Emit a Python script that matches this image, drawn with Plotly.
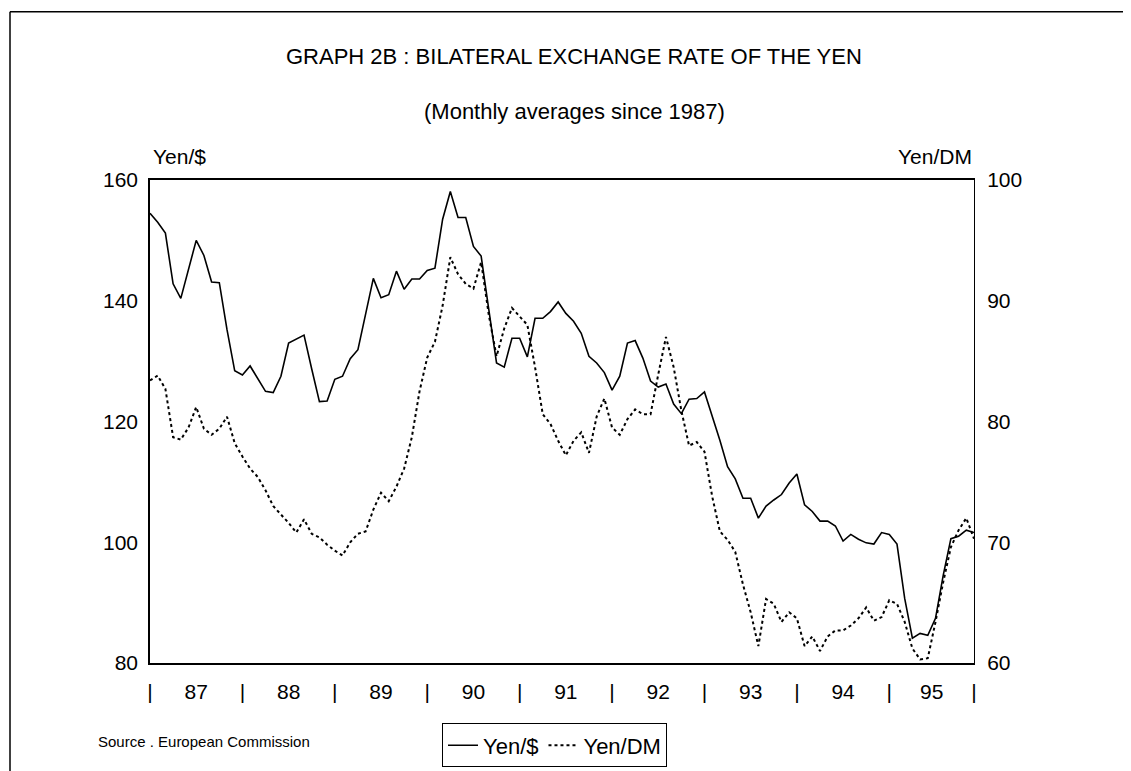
import plotly.graph_objects as go

# Monthly averages, Jan 1987 - Dec 1995
yen_usd = [154.5, 153.0, 151.2, 142.8, 140.4, 145.0, 150.0, 147.5, 143.1, 143.0, 135.2, 128.4,
           127.7, 129.2, 127.0, 125.0, 124.8, 127.5, 133.0, 133.6, 134.3, 128.7, 123.3, 123.4,
           127.0, 127.5, 130.4, 131.9, 137.7, 143.7, 140.5, 141.0, 144.9, 141.9, 143.6, 143.6,
           145.0, 145.4, 153.5, 158.1, 153.8, 153.8, 149.0, 147.4, 138.5, 129.7, 129.0, 133.8,
           133.8, 130.7, 137.1, 137.1, 138.2, 139.8, 137.9, 136.6, 134.6, 130.8, 129.7, 128.1,
           125.2, 127.5, 133.0, 133.4, 130.5, 126.7, 125.7, 126.2, 122.9, 121.3, 123.7, 123.8,
           124.9, 121.0, 116.9, 112.5, 110.5, 107.3, 107.3, 104.0, 106.0, 107.0, 107.9, 109.8,
           111.3, 106.2, 105.1, 103.5, 103.5, 102.7, 100.2, 101.3, 100.5, 99.9, 99.7, 101.6,
           101.3, 99.7, 90.7, 84.1, 84.9, 84.6, 87.4, 94.5, 100.6, 101.0, 102.0, 101.6]

yen_dm = [83.4, 83.8, 82.7, 78.7, 78.5, 79.5, 81.2, 79.4, 78.9, 79.4, 80.4, 78.2,
          77.1, 76.1, 75.4, 74.3, 73.0, 72.3, 71.6, 70.8, 71.9, 70.7, 70.4, 69.8,
          69.3, 68.9, 70.0, 70.7, 70.9, 72.7, 74.1, 73.4, 74.6, 76.1, 78.7, 82.5,
          85.3, 86.6, 89.6, 93.6, 92.2, 91.4, 91.0, 93.2, 88.8, 85.4, 87.7, 89.4,
          88.7, 88.0, 84.5, 80.6, 79.8, 78.4, 77.2, 78.4, 79.1, 77.4, 80.4, 81.9,
          79.5, 78.9, 80.2, 81.0, 80.6, 80.6, 83.9, 87.0, 84.5, 80.9, 78.0, 78.3,
          77.5, 73.8, 70.9, 70.2, 69.2, 66.5, 64.2, 61.4, 65.3, 64.9, 63.4, 64.2,
          63.7, 61.4, 62.2, 61.0, 62.2, 62.7, 62.7, 63.1, 63.7, 64.6, 63.5, 63.8,
          65.2, 64.9, 63.4, 61.2, 60.3, 60.4, 63.4, 66.7, 69.6, 71.0, 72.0, 70.3]

year_labels = ["87", "88", "89", "90", "91", "92", "93", "94", "95"]
left_ticks = [80, 100, 120, 140, 160]
right_ticks = [60, 70, 80, 90, 100]

months = list(range(len(yen_usd)))
n_last = months[-1]

# year boundary marks "|" and centred year labels
bounds = [12 * k for k in range(len(year_labels))] + [n_last]
tickvals, ticktext = [], []
for k, lab in enumerate(year_labels):
    tickvals += [bounds[k], (bounds[k] + bounds[k + 1]) / 2]
    ticktext += ["|", lab]
tickvals.append(bounds[-1])
ticktext.append("|")

FONT = "Liberation Sans, Arial, sans-serif"

fig = go.Figure()
fig.add_trace(go.Scatter(x=months, y=yen_usd, name="Yen/$", mode="lines",
                         line=dict(color="black", width=1.6), yaxis="y"))
fig.add_trace(go.Scatter(x=months, y=yen_dm, name="Yen/DM", mode="lines",
                         line=dict(color="black", width=2, dash="dot"), yaxis="y2"))

L, R, T, B = 142, 966, 172, 660
W, H = 1131, 771
pw, ph = R - L, B - T

def px(x):
    return (x - L) / pw

def py(y):
    return (B - y) / ph

fig.update_layout(
    width=W, height=H,
    margin=dict(l=L, r=W - R, t=T, b=H - B),
    paper_bgcolor="white", plot_bgcolor="white",
    font=dict(family=FONT, color="black", size=21),
    showlegend=True,
    legend=dict(orientation="h", x=px(434), y=py(721), xanchor="left", yanchor="top",
                bordercolor="black", borderwidth=1, bgcolor="white",
                font=dict(size=22, family=FONT), itemwidth=30, tracegroupgap=0),
    xaxis=dict(range=[0, n_last], tickmode="array", tickvals=tickvals, ticktext=ticktext,
               showgrid=False, zeroline=False, showline=True, linecolor="black", linewidth=2,
               mirror=True, ticks="", ticklabelstandoff=9, tickangle=0,
               tickfont=dict(size=21, family=FONT)),
    yaxis=dict(range=[80, 160], tickvals=left_ticks, showgrid=False, zeroline=False,
               showline=True, linecolor="black", linewidth=1.5, ticks="",
               ticklabelstandoff=6, tickfont=dict(size=21, family=FONT)),
    yaxis2=dict(range=[60, 100], tickvals=right_ticks, overlaying="y", side="right",
                showgrid=False, zeroline=False, showline=True, linecolor="black",
                linewidth=1, ticks="", ticklabelstandoff=8,
                tickfont=dict(size=21, family=FONT)),
)

ann = [
    dict(text="GRAPH 2B : BILATERAL EXCHANGE RATE OF THE YEN", x=px(566), y=py(47),
         xanchor="center", yanchor="middle", font=dict(size=22)),
    dict(text="(Monthly averages since 1987)", x=px(566), y=py(103),
         xanchor="center", yanchor="middle", font=dict(size=22)),
    dict(text="Yen/$", x=px(143), y=py(148), xanchor="left", yanchor="middle",
         font=dict(size=21)),
    dict(text="Yen/DM", x=px(966), y=py(148), xanchor="right", yanchor="middle",
         font=dict(size=21)),
    dict(text="Source . European Commission", x=px(88), y=py(739), xanchor="left",
         yanchor="middle", font=dict(size=15)),
]
for a in ann:
    a.update(xref="paper", yref="paper", showarrow=False)
fig.update_layout(annotations=ann)

# outer frame of the page
for (x0, y0, x1, y1) in [(2, 2, 1129, 2), (2, 2, 2, 771), (1129, 2, 1129, 771)]:
    fig.add_shape(type="line", xref="paper", yref="paper",
                  x0=px(x0), y0=py(y0), x1=px(x1), y1=py(y1),
                  line=dict(color="black", width=1.5))

fig.write_html("out.html")
